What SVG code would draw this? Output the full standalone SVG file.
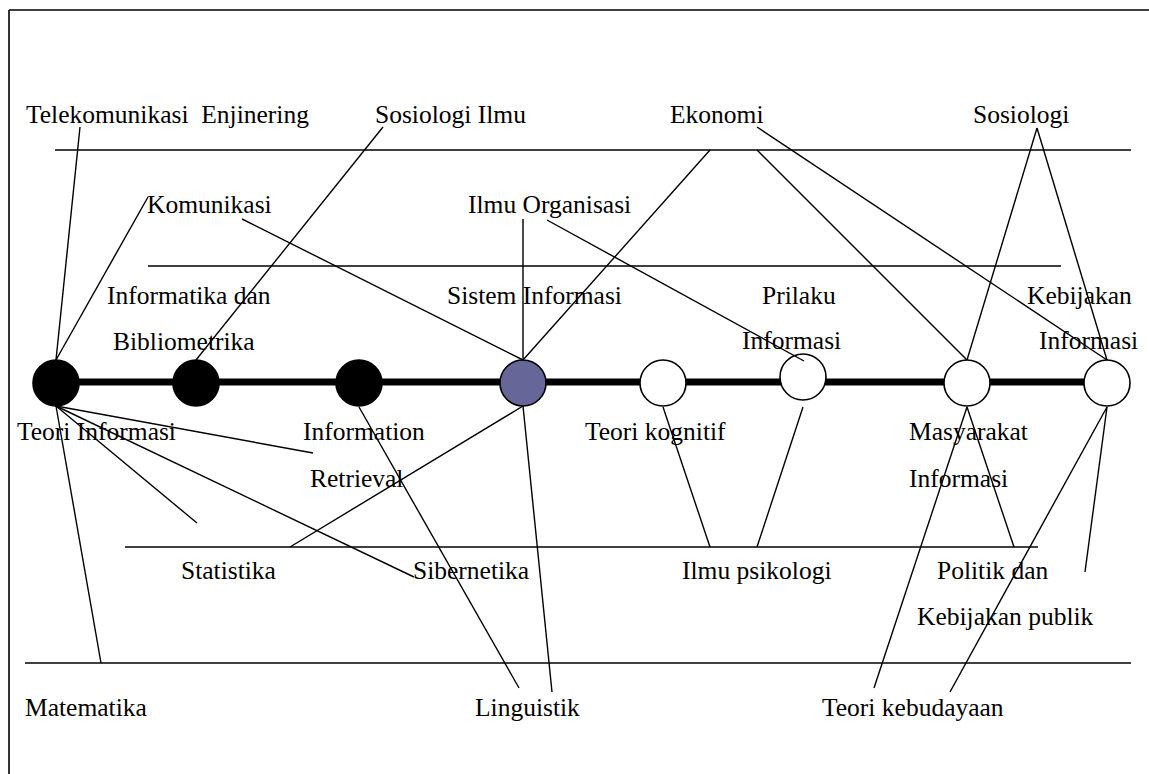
<svg xmlns="http://www.w3.org/2000/svg" width="1149" height="774" viewBox="0 0 1149 774">
<style>
text{font-family:"Liberation Serif","Times New Roman",serif;font-size:25.5px;fill:#000;white-space:pre}
.rule{stroke:#000;stroke-width:1.6;fill:none}
.c{stroke:#000;stroke-width:1.4;fill:none}
.node{stroke:#000;stroke-width:1.6}
</style>
<rect width="1149" height="774" fill="#fff"/>
<g id="frame">
<line class="rule" x1="9" y1="10" x2="1149" y2="10"/>
<line class="rule" x1="9" y1="10" x2="9" y2="774"/>
</g>
<g id="bands">
<line class="rule" x1="55" y1="150" x2="1131" y2="150"/>
<line class="rule" x1="148" y1="266" x2="1061" y2="266"/>
<line class="rule" x1="125" y1="547" x2="1038" y2="547"/>
<line class="rule" x1="25" y1="663" x2="1131" y2="663"/>
</g>
<g id="axis">
<line x1="56" y1="382" x2="1107" y2="382" stroke="#000" stroke-width="7"/>
</g>
<g id="n-teori-informasi"><circle class="node" cx="56" cy="383" r="23" fill="#000"/><text x="17" y="440">Teori Informasi</text></g>
<g id="n-informatika"><circle class="node" cx="196" cy="383" r="23" fill="#000"/><text x="107" y="304">Informatika dan</text><text x="113" y="350">Bibliometrika</text></g>
<g id="n-retrieval"><circle class="node" cx="359" cy="383" r="23" fill="#000"/><text x="303" y="440">Information</text><text x="310" y="487">Retrieval</text></g>
<g id="n-sistem"><circle class="node" cx="523" cy="383" r="23" fill="#666699"/><text x="447" y="304">Sistem Informasi</text></g>
<g id="n-kognitif"><circle class="node" cx="663" cy="383" r="23" fill="#fff"/><text x="585" y="440">Teori kognitif</text></g>
<g id="n-prilaku"><circle class="node" cx="803" cy="377" r="23" fill="#fff"/><text x="762" y="304">Prilaku</text><text x="742" y="349">Informasi</text></g>
<g id="n-masyarakat"><circle class="node" cx="967" cy="383" r="23" fill="#fff"/><text x="909" y="440">Masyarakat</text><text x="909" y="487">Informasi</text></g>
<g id="n-kebijakan"><circle class="node" cx="1107" cy="383" r="23" fill="#fff"/><text x="1027" y="304">Kebijakan</text><text x="1039" y="349">Informasi</text></g>
<g id="t-telekom"><text x="26" y="123">Telekomunikasi  Enjinering</text></g>
<g id="t-sosilmu"><text x="375" y="123">Sosiologi Ilmu</text></g>
<g id="t-ekonomi"><text x="670" y="123">Ekonomi</text></g>
<g id="t-sosiologi"><text x="973" y="123">Sosiologi</text></g>
<g id="t-komunikasi"><text x="147" y="213">Komunikasi</text></g>
<g id="t-organisasi"><text x="468" y="213">Ilmu Organisasi</text></g>
<g id="t-statistika"><text x="181" y="579">Statistika</text></g>
<g id="t-sibernetika"><text x="413" y="579">Sibernetika</text></g>
<g id="t-psikologi"><text x="682" y="579">Ilmu psikologi</text></g>
<g id="t-politik"><text x="937" y="579">Politik dan</text><text x="917" y="625">Kebijakan publik</text></g>
<g id="t-matematika"><text x="25" y="716">Matematika</text></g>
<g id="t-linguistik"><text x="475" y="716">Linguistik</text></g>
<g id="t-budaya"><text x="822" y="716">Teori kebudayaan</text></g>
<g id="connectors">
<line class="c" x1="80" y1="127" x2="56" y2="360"/>
<line class="c" x1="148" y1="197" x2="56" y2="360"/>
<line class="c" x1="242" y1="219" x2="523" y2="360"/>
<line class="c" x1="383" y1="127" x2="196" y2="360"/>
<line class="c" x1="523" y1="219" x2="523" y2="360"/>
<line class="c" x1="547" y1="220" x2="804" y2="361"/>
<line class="c" x1="710" y1="150" x2="523" y2="360"/>
<line class="c" x1="757" y1="150" x2="967" y2="360"/>
<line class="c" x1="757" y1="127" x2="1107" y2="360"/>
<line class="c" x1="1037" y1="128" x2="967" y2="360"/>
<line class="c" x1="1037" y1="128" x2="1107" y2="360"/>
<line class="c" x1="56" y1="406" x2="313" y2="453"/>
<line class="c" x1="56" y1="406" x2="197" y2="523"/>
<line class="c" x1="56" y1="406" x2="414" y2="577"/>
<line class="c" x1="56" y1="406" x2="101" y2="663"/>
<line class="c" x1="359" y1="407" x2="519" y2="688"/>
<line class="c" x1="290" y1="547" x2="523" y2="406"/>
<line class="c" x1="523" y1="406" x2="552" y2="692"/>
<line class="c" x1="663" y1="407" x2="710" y2="547"/>
<line class="c" x1="803" y1="407" x2="757" y2="547"/>
<line class="c" x1="967" y1="407" x2="874" y2="688"/>
<line class="c" x1="967" y1="407" x2="1014" y2="547"/>
<line class="c" x1="1107" y1="407" x2="950" y2="692"/>
<line class="c" x1="1107" y1="407" x2="1085" y2="572"/>
</g>
</svg>
